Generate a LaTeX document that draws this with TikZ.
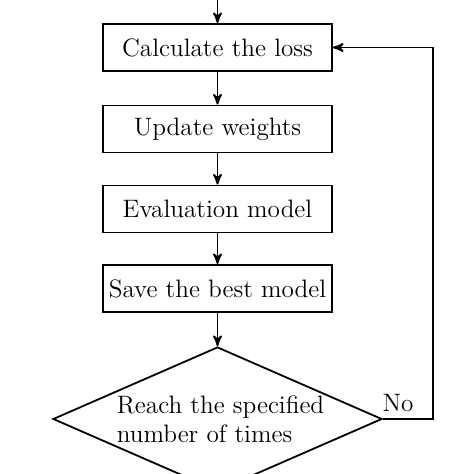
\documentclass[tikz,border=0pt]{standalone}
\usepackage{amsmath}
\usepackage{tikz}
\usetikzlibrary{shapes.geometric, positioning, arrows}

\begin{document}
\begin{tikzpicture}[x=0.5pt, y=-0.5pt, ->, >=stealth', line width=0.9pt, font=\fontsize{12.6}{14.5}\selectfont, box/.style={rectangle, draw, minimum width=114.5pt, minimum height=23.5pt, inner sep=0pt}, decision/.style={diamond, draw, aspect=2.28, minimum width=164.5pt, minimum height=72pt, inner sep=0pt, align=left}]
\useasboundingbox (0,0) rectangle (474,474);
\coordinate (top) at (217.5,0);
\node[box] at (217.5,47.5) (calc) {Calculate the loss};
\node[box] at (217.5,129) (upd) {Update weights};
\node[box] at (217.5,209) (eval) {Evaluation model};
\node[box] at (217.5,288.5) (save) {Save the best model};
\node[decision] at (217.5,419) (reach) {\hspace{3pt}Reach the specified\\\hspace{3pt}number of times};
\coordinate (turn) at (433,419);
\draw (top) -- (calc);
\draw (calc) -- (upd);
\draw (upd) -- (eval);
\draw (eval) -- (save);
\draw (save) -- (reach);
\draw (reach) -- node[above, pos=0.3]{No} (turn) |- (calc);
\end{tikzpicture}
\end{document}
